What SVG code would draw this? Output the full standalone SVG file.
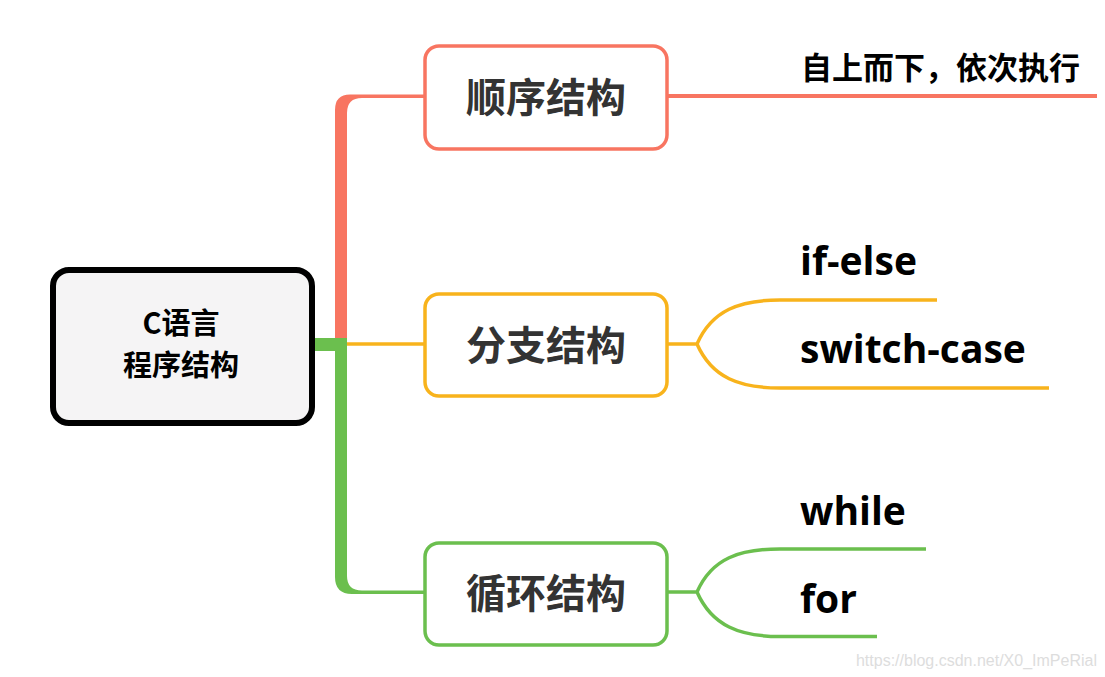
<svg xmlns="http://www.w3.org/2000/svg" width="1105" height="677" viewBox="0 0 1105 677">
<style>
.cjk{font-family:"Noto Sans CJK SC","Noto Sans",sans-serif;font-weight:bold}
.en{font-family:"Open Sans","Noto Sans",sans-serif;font-weight:bold;fill:#000}
.box{fill:#fff;stroke-width:3.5}
.ln{fill:none;stroke-width:3.5}
</style>
<rect width="1105" height="677" fill="#fff"/>
<g id="connectors">
<path d="M335,340 V110 Q335,94.5 350,94.5 H424 V98 H362 Q347,98 347,113 V340 Z" fill="#f87561"/>
<line x1="347" y1="344" x2="424" y2="344" stroke="#f8b31c" stroke-width="3.5"/>
<path d="M315,338 H347 V576 Q347,590.5 362,590.5 H424 V594 H352 Q335,594 335,577 V351 H315 Z" fill="#6bbf4e"/>
<line x1="668" y1="96" x2="1097" y2="96" stroke="#f87561" stroke-width="4"/>
<path class="ln" stroke="#f8b31c" d="M668,344 H697 M697,344 C712,310 740,300 780,300 H937 M697,344 C712,378 740,388 780,388 H1049"/>
<path class="ln" stroke="#6bbf4e" d="M668,592 H697 M697,592 C712,558 740,549 780,549 H926 M697,592 C712,626 740,636.5 780,636.5 H877"/>
</g>
<g id="root">
<rect x="53" y="270" width="259" height="153" rx="16" fill="#f5f4f5" stroke="#000" stroke-width="6"/>
<text class="cjk" x="181" y="334" font-size="29" text-anchor="middle" fill="#000">C语言</text>
<text class="cjk" x="181" y="376" font-size="29" text-anchor="middle" fill="#000">程序结构</text>
</g>
<g id="seq">
<rect class="box" x="425" y="46" width="242" height="103" rx="14" stroke="#f87561"/>
<text class="cjk" x="546" y="112" font-size="40" text-anchor="middle" fill="#333">顺序结构</text>
</g>
<g id="seq-desc">
<text class="cjk" x="801" y="79" font-size="31" fill="#000">自上而下，依次执行</text>
</g>
<g id="branch">
<rect class="box" x="425" y="294" width="242" height="102" rx="14" stroke="#f8b31c"/>
<text class="cjk" x="546" y="360" font-size="40" text-anchor="middle" fill="#333">分支结构</text>
</g>
<g id="ifelse"><text class="en" x="800" y="275" font-size="39">if-else</text></g>
<g id="switch"><text class="en" x="800" y="363" font-size="39">switch-case</text></g>
<g id="loop">
<rect class="box" x="425" y="543" width="242" height="102" rx="14" stroke="#6bbf4e"/>
<text class="cjk" x="546" y="608" font-size="40" text-anchor="middle" fill="#333">循环结构</text>
</g>
<g id="while"><text class="en" x="800" y="525" font-size="39">while</text></g>
<g id="for"><text class="en" x="800" y="613" font-size="39">for</text></g>
<text x="1097" y="666" font-family="Liberation Sans,Arial,sans-serif" font-size="16" fill="#ddd" text-anchor="end">https://blog.csdn.net/X0_ImPeRial</text>
</svg>
